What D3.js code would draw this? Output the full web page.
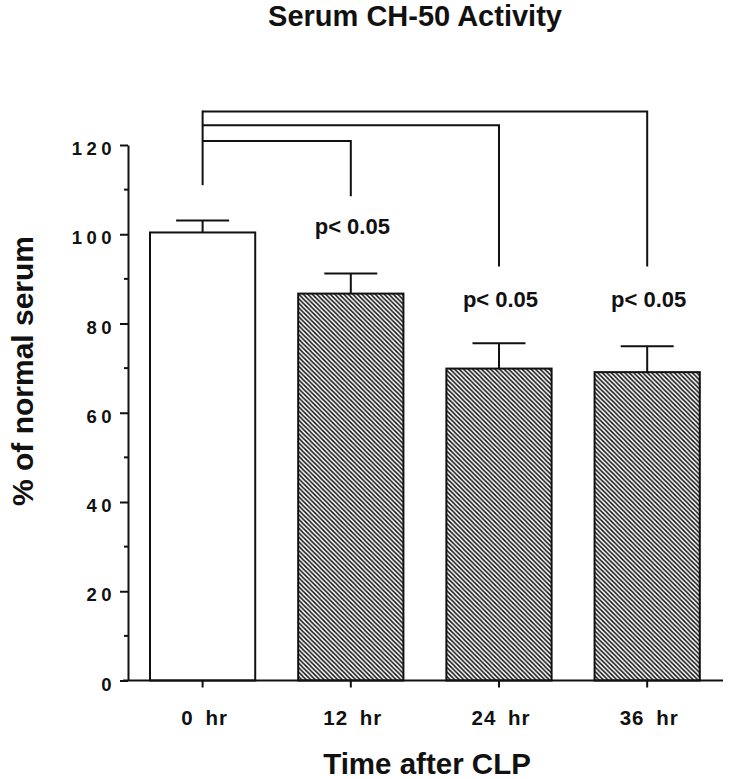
<!DOCTYPE html>
<html>
<head>
<meta charset="utf-8">
<script src="https://cdn.jsdelivr.net/npm/d3@7"></script>
<style>
  html, body { margin: 0; padding: 0; background: #fff; }
  svg { display: block; }
  text { font-family: "Liberation Sans", Arial, Helvetica, sans-serif; font-weight: bold; fill: #111; }
</style>
</head>
<body>
<svg id="chart" width="730" height="779"></svg>
<script>
// ---- data ----
const categories = ["0 hr", "12 hr", "24 hr", "36 hr"];
const means = [100.4, 86.7, 69.9, 69.1];
const errors = [2.7, 4.5, 5.7, 5.8];
const hatched = [false, true, true, true];
const yTicks = [0, 20, 40, 60, 80, 100, 120];
const yMinorTicks = [10, 30, 50, 70, 90, 110];
const pLabels = ["", "p< 0.05", "p< 0.05", "p< 0.05"];
const pLabelLevels = [null, 100.1, 83.6, 83.6];
// brackets from "0 hr" to each group: horizontal level and drop end (data units)
const bracketTargets = ["12 hr", "24 hr", "36 hr"];
const bracketLevels = [120.9, 124.4, 127.5];
const bracketDrops = [108.5, 92.8, 92.8];
const bracketStartBottom = 111.0;
const titleText = "Serum CH-50 Activity";
const xTitle = "Time after CLP";
const yTitle = "% of normal serum";

// ---- layout ----
const svg = d3.select("#chart");
const axisX = 128;
const y = d3.scaleLinear().domain([0, 120]).range([680.5, 145]);
const x = d3.scaleBand().domain(categories).range([150, 699.8]).paddingInner(0.29).paddingOuter(0);
const cx = c => x(c) + x.bandwidth() / 2;

// hatch pattern
const defs = svg.append("defs");
const pat = defs.append("pattern")
  .attr("id", "hatch").attr("patternUnits", "userSpaceOnUse")
  .attr("width", 4.5).attr("height", 4.5);
pat.append("rect").attr("width", 4.5).attr("height", 4.5).attr("fill", "#fff");
pat.append("path")
  .attr("d", "M0,0 L4.5,4.5 M-1,3.5 L1,5.5 M3.5,-1 L5.5,1")
  .attr("stroke", "#111").attr("stroke-width", 1.5);

// title
svg.append("text").attr("x", 415).attr("y", 26).attr("text-anchor", "middle")
  .style("font-size", "29px").text(titleText);

// bars
svg.selectAll("rect.bar").data(categories).join("rect").attr("class", "bar")
  .attr("x", d => x(d)).attr("width", x.bandwidth())
  .attr("y", (d, i) => y(means[i])).attr("height", (d, i) => y(0) - y(means[i]))
  .attr("fill", (d, i) => hatched[i] ? "url(#hatch)" : "#fff")
  .attr("stroke", "#111").attr("stroke-width", 2);

// error bars
const eb = svg.append("g").attr("stroke", "#111").attr("stroke-width", 2).attr("fill", "none");
categories.forEach((c, i) => {
  eb.append("line").attr("x1", cx(c)).attr("x2", cx(c))
    .attr("y1", y(means[i])).attr("y2", y(means[i] + errors[i]));
  eb.append("line").attr("x1", cx(c) - 26.5).attr("x2", cx(c) + 26.5)
    .attr("y1", y(means[i] + errors[i])).attr("y2", y(means[i] + errors[i]));
});

// y axis
const yAxis = d3.axisLeft(y).tickValues(yTicks).tickSize(8).tickSizeOuter(0).tickFormat(d3.format("d"));
const gy = svg.append("g").attr("transform", `translate(${axisX},0)`).call(yAxis);
gy.attr("font-size", null).attr("font-family", null);
gy.select(".domain").attr("stroke", "#111").attr("stroke-width", 2);
gy.selectAll(".tick line").attr("stroke", "#111").attr("stroke-width", 2);
gy.selectAll(".tick text")
  .attr("x", -12).attr("dy", null).attr("y", 9.5)
  .style("font-size", "18.5px").style("letter-spacing", "4.5px")
  .attr("fill", "#111");
svg.append("g").selectAll("line").data(yMinorTicks).join("line")
  .attr("x1", axisX - 4).attr("x2", axisX).attr("y1", d => y(d)).attr("y2", d => y(d))
  .attr("stroke", "#111").attr("stroke-width", 2);

// x axis
svg.append("line").attr("x1", axisX - 5).attr("x2", 723).attr("y1", y(0)).attr("y2", y(0))
  .attr("stroke", "#111").attr("stroke-width", 2);
const xAxis = d3.axisBottom(x).tickSize(7).tickSizeOuter(0);
const gx = svg.append("g").attr("transform", `translate(0,${y(0)})`).call(xAxis);
gx.attr("font-size", null).attr("font-family", null);
gx.select(".domain").remove();
gx.selectAll(".tick line").attr("stroke", "#111").attr("stroke-width", 2);
gx.selectAll(".tick text")
  .attr("y", 44.5).attr("dy", null).attr("x", 2)
  .style("font-size", "20.5px").style("letter-spacing", "1px").style("word-spacing", "5px")
  .attr("fill", "#111");

// brackets
const br = svg.append("g").attr("stroke", "#111").attr("stroke-width", 2).attr("fill", "none");
const x0 = cx(categories[0]);
br.append("line").attr("x1", x0).attr("x2", x0)
  .attr("y1", y(d3.max(bracketLevels)) - 1).attr("y2", y(bracketStartBottom));
bracketTargets.forEach((t, i) => {
  br.append("path").attr("d",
    `M${x0},${y(bracketLevels[i])} H${cx(t)} V${y(bracketDrops[i])}`);
});

// p labels
svg.selectAll("text.p").data(categories.filter((c, i) => pLabels[i])).join("text").attr("class", "p")
  .attr("x", c => cx(c) + 1.5)
  .attr("y", c => y(pLabelLevels[categories.indexOf(c)]))
  .attr("text-anchor", "middle").style("font-size", "22px")
  .text(c => pLabels[categories.indexOf(c)]);

// axis titles
svg.append("text").attr("x", 427).attr("y", 774).attr("text-anchor", "middle")
  .style("font-size", "29.5px").text(xTitle);
svg.append("text").attr("transform", "translate(33,371) rotate(-90)").attr("text-anchor", "middle")
  .style("font-size", "30px").text(yTitle);
</script>
</body>
</html>
